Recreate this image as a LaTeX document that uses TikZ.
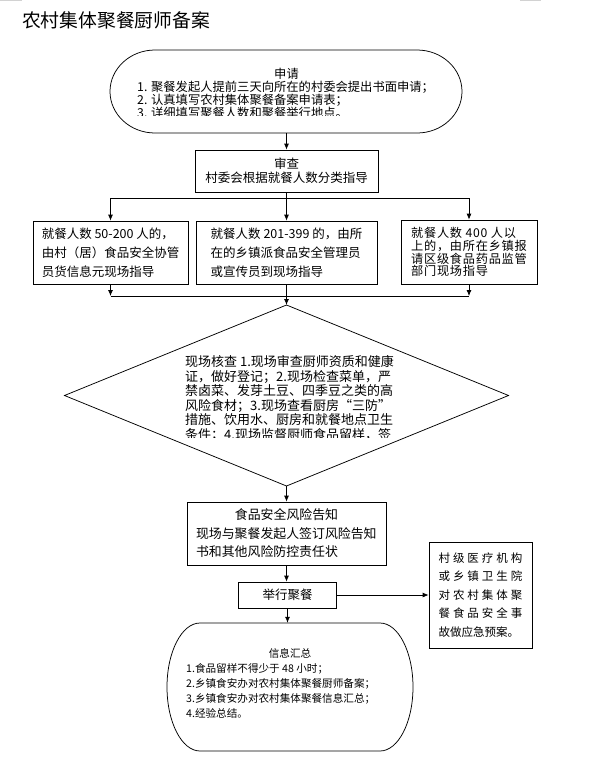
\documentclass[tikz,border=0pt]{standalone}
\usepackage{fontspec}
\setmainfont{Noto Sans CJK SC}
\newfontfamily\cjkwide[LetterSpace=6]{Noto Sans CJK SC}
\newfontfamily\cjkspaced[LetterSpace=26]{Noto Sans CJK SC}
\usetikzlibrary{arrows.meta}
\begin{document}
\begin{tikzpicture}[x=1pt,y=-1pt,
  conn/.style={line width=0.75pt, draw=black},
  arr/.style={conn, -{Latex[length=6pt,width=5pt]}},
  box/.style={draw, line width=0.75pt, inner sep=0pt},
  plain/.style={inner sep=0pt},
]
\useasboundingbox (0,0) rectangle (590,782);

% crop marks at the top edge
\draw[gray!35, line width=1.2pt] (0,0.6) -- (22,0.6);
\draw[gray!35, line width=1.2pt] (520,0.6) -- (541,0.6);

% title
\node[plain, anchor=west, font=\fontsize{18.8}{20}\selectfont] (title) at (22,20) {农村集体聚餐厨师备案};

% ---------- top terminator: 申请 ----------
\node[plain, minimum width=352pt, minimum height=83pt] (apply) at (286.5,91.5) {};
\draw[conn] (155,50) -- (417,50) .. controls (441.9,50) and (462,68.6) .. (462,91.5)
  .. controls (462,114.4) and (441.9,133) .. (417,133) -- (155,133)
  .. controls (130.1,133) and (110,114.4) .. (110,91.5)
  .. controls (110,68.6) and (130.1,50) .. (155,50) -- cycle;
\begin{scope}
  \clip (112,52) rectangle (460,115);
  \node[plain, font=\fontsize{12.3}{13}\selectfont] (applyhead) at (286.5,73.5) {申请};
  \node[plain, anchor=north west, align=left, font=\fontsize{12.3}{13}\selectfont] (applylist) at (137,81) {1. 聚餐发起人提前三天向所在的村委会提出书面申请；\\2. 认真填写农村集体聚餐备案申请表；\\3. 详细填写聚餐人数和聚餐举行地点。};
\end{scope}

% ---------- 审查 ----------
\node[box, minimum width=183pt, minimum height=42pt, align=center, font=\fontsize{12.5}{14}\selectfont] (review) at (286.5,171) {审查\\村委会根据就餐人数分类指导};

% ---------- three branch boxes ----------
\node[box, minimum width=155pt, minimum height=63pt, align=left, font=\fontsize{12.5}{19}\selectfont] (b1) at (110.5,252.5) {就餐人数 50-200 人的，\\由村（居）食品安全协管\\员货信息元现场指导};
\node[box, minimum width=181pt, minimum height=63pt, align=left, font=\fontsize{12.5}{19}\selectfont] (b2) at (286.5,252.5) {就餐人数 201-399 的，由所\\在的乡镇派食品安全管理员\\或宣传员到现场指导};
\node[box, minimum width=136pt, minimum height=64pt, align=left, font=\fontsize{12.2}{12.8}\selectfont\cjkwide] (b3) at (469,252) {就餐人数 400 人以\\上的，由所在乡镇报\\请区级食品药品监管\\部门现场指导};

\coordinate (splitl) at (110.5,198);
\coordinate (splitc) at (286.5,198);
\coordinate (splitr) at (469,198);
\coordinate (mergel) at (110.5,296);
\coordinate (mergec) at (286.5,296);
\coordinate (merger) at (469,296);

\draw[arr] (apply.south) -- (review.north);
\draw[conn] (review.south) -- (splitc);
\draw[conn] (splitl) -- (splitr);
\draw[arr] (splitl) -- (b1.north);
\draw[arr] (splitc) -- (b2.north);
\draw[arr] (splitr) -- (b3.north);
\draw[arr] (b1.south) -- (mergel);
\draw[arr] (b3.south) -- (merger);
\draw[conn] (b2.south) -- (mergec);
\draw[conn] (mergel) -- (merger);

% ---------- diamond: 现场核查 ----------
\coordinate (dT) at (286.5,305);
\coordinate (dR) at (508.5,395.5);
\coordinate (dB) at (286.5,486);
\coordinate (dL) at (64.5,395.5);
\draw[conn] (dT) -- (dR) -- (dB) -- (dL) -- cycle;
\draw[arr] (mergec) -- (dT);
\begin{scope}
  \clip (150,345) rectangle (420,437.5);
  \node[plain, anchor=north west, align=left, font=\fontsize{13}{14.5}\selectfont] (checktext) at (185,355.5) {现场核查 1.现场审查厨师资质和健康\\证，做好登记；2.现场检查菜单，严\\禁卤菜、发芽土豆、四季豆之类的高\\风险食材；3.现场查看厨房“三防”\\措施、饮用水、厨房和就餐地点卫生\\条件；4.现场监督厨师食品留样，签};
\end{scope}

% ---------- 食品安全风险告知 ----------
\node[box, minimum width=199pt, minimum height=63pt, text width=181pt, align=left, font=\fontsize{12.9}{18.5}\selectfont] (notice) at (286.5,533.5) {\hfill 食品安全风险告知\hfill\null\\现场与聚餐发起人签订风险告知\\书和其他风险防控责任状};
\draw[arr] (dB) -- (notice.north);

% ---------- 举行聚餐 ----------
\node[box, minimum width=98pt, minimum height=26pt, font=\fontsize{12.5}{14}\selectfont] (hold) at (287.5,595) {举行聚餐};
\draw[arr] (notice.south) -- (notice.south |- hold.north);

% ---------- 应急预案 ----------
\node[box, minimum width=103pt, minimum height=106pt, align=left, font=\fontsize{11.5}{18.6}\selectfont] (plan) at (480.5,595) {{\cjkspaced 村级医疗机构}\\{\cjkspaced 或乡镇卫生院}\\{\cjkspaced 对农村集体聚}\\{\cjkspaced 餐食品安全事}\\故做应急预案。};
\draw[arr] (hold.east) -- (plan.west);

% ---------- bottom terminator: 信息汇总 ----------
\node[plain, minimum width=246pt, minimum height=128pt] (info) at (290,687) {};
\draw[conn] (200,623) -- (380,623) .. controls (398.2,623) and (413,651.7) .. (413,687)
  .. controls (413,722.3) and (398.2,751) .. (380,751) -- (200,751)
  .. controls (181.8,751) and (167,722.3) .. (167,687)
  .. controls (167,651.7) and (181.8,623) .. (200,623) -- cycle;
\draw[arr] (hold.south) -- (hold.south |- info.north);
\node[plain, font=\fontsize{10.6}{15}\selectfont] (infohead) at (290,653) {信息汇总};
\node[plain, anchor=north west, align=left, font=\fontsize{10.6}{15}\selectfont] (infolist) at (186,663) {1.食品留样不得少于 48 小时；\\2.乡镇食安办对农村集体聚餐厨师备案；\\3.乡镇食安办对农村集体聚餐信息汇总；\\4.经验总结。};
\end{tikzpicture}
\end{document}
